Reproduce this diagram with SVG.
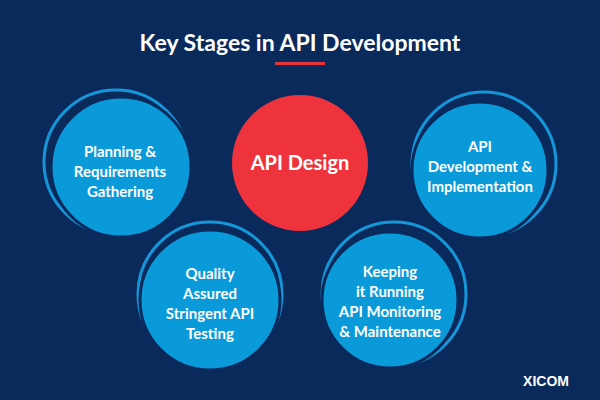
<svg xmlns="http://www.w3.org/2000/svg" width="600" height="400" viewBox="0 0 600 400">
<style>
.ring{fill:none;stroke:#1596d8;stroke-width:3}
.b{fill:#0a9ad9;stroke:#0b2a5c;stroke-width:3}
.t{font-family:Lato,"Liberation Sans",sans-serif;font-weight:bold;fill:#fff;text-anchor:middle;font-size:15px}
</style>
<rect width="600" height="400" fill="#0b2a5c"/>
<text x="300" y="51" class="t" style="font-size:23px">Key Stages in API Development</text>
<rect x="275" y="62" width="50" height="3" fill="#e8323c"/>
<g id="connectors"/>
<g id="n1"><circle cx="116" cy="162" r="72" class="ring"/><circle cx="121" cy="167" r="70" class="b"/>
<text class="t" x="120" y="157">Planning &amp;</text><text class="t" x="120" y="177">Requirements</text><text class="t" x="120" y="197">Gathering</text></g>
<g id="n2"><circle cx="300" cy="163" r="68" fill="#ee333c"/>
<text class="t" x="300" y="170" style="font-size:20px">API Design</text></g>
<g id="n3"><circle cx="484" cy="164" r="72" class="ring"/><circle cx="480" cy="170" r="68" class="b"/>
<text class="t" x="480" y="152">API</text><text class="t" x="480" y="172">Development &amp;</text><text class="t" x="480" y="192">Implementation</text></g>
<g id="n4"><circle cx="210" cy="294" r="72" class="ring"/><circle cx="210" cy="300" r="70" class="b"/>
<text class="t" x="210" y="279">Quality</text><text class="t" x="210" y="299">Assured</text><text class="t" x="210" y="319">Stringent API</text><text class="t" x="210" y="339">Testing</text></g>
<g id="n5"><circle cx="394" cy="294" r="72" class="ring"/><circle cx="390" cy="300" r="68" class="b"/>
<text class="t" x="390" y="277">Keeping</text><text class="t" x="390" y="297">it Running</text><text class="t" x="390" y="317">API Monitoring</text><text class="t" x="390" y="337">&amp; Maintenance</text></g>
<text x="546" y="386" style="font-family:'Liberation Sans',sans-serif;font-weight:900;font-size:14px;fill:#fff;text-anchor:middle">XICOM</text>
</svg>
